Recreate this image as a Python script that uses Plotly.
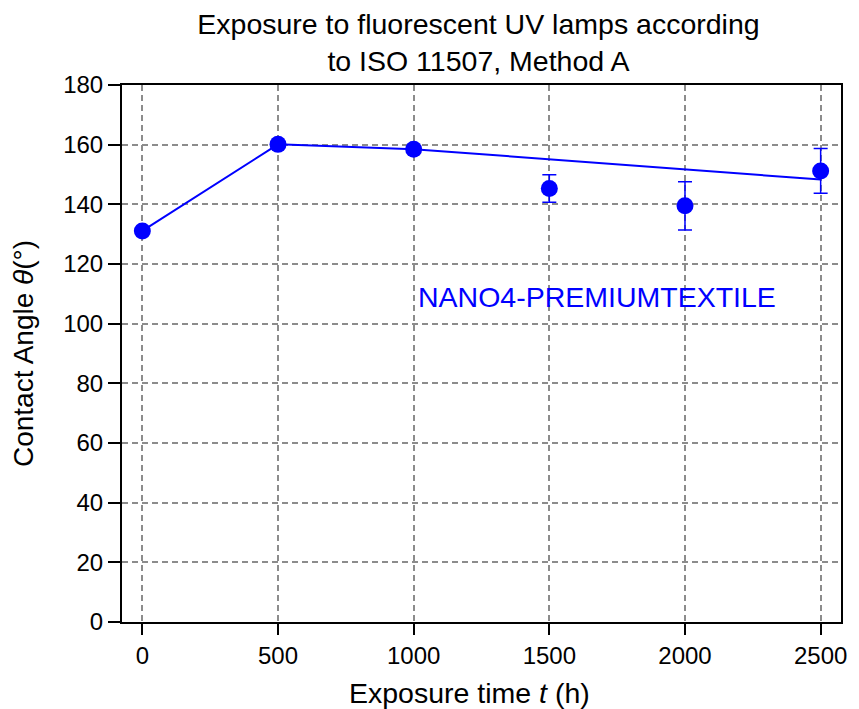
import plotly.graph_objects as go

# Data
exposure_h = [0, 500, 1000, 1500, 2000, 2500]
contact_angle = [131.1, 160.1, 158.5, 145.3, 139.5, 151.2]
angle_err = [0.0, 0.0, 0.0, 4.6, 8.1, 7.5]

trend_x = [0, 500, 1000, 2500]
trend_y = [131.1, 160.1, 158.5, 148.3]

x_ticks = [0, 500, 1000, 1500, 2000, 2500]
y_ticks = [0, 20, 40, 60, 80, 100, 120, 140, 160, 180]

BLUE = "#0000ff"
FONT = "Liberation Sans, Arial, sans-serif"

fig = go.Figure()
fig.add_trace(go.Scatter(
    x=trend_x, y=trend_y, mode="lines",
    line=dict(color=BLUE, width=2), showlegend=False, hoverinfo="skip"))
fig.add_trace(go.Scatter(
    x=exposure_h, y=contact_angle, mode="markers",
    marker=dict(color=BLUE, size=17),
    error_y=dict(type="data", array=angle_err, color=BLUE, thickness=1.5, width=7),
    showlegend=False))

fig.add_annotation(x=1675, y=109, xref="x", yref="y",
                   text="NANO4-PREMIUMTEXTILE", showarrow=False,
                   font=dict(family=FONT, size=28.5, color=BLUE))

# x-axis title placed as annotation (slightly left of plot centre, as in the reference)
fig.add_annotation(x=0.483, y=-0.132, xref="paper", yref="paper",
                   xanchor="center", yanchor="middle",
                   text="Exposure time <i>t</i> (h)", showarrow=False,
                   font=dict(family=FONT, size=28.5, color="black"))

grid = dict(showgrid=True, gridcolor="#8c8c8c", gridwidth=1.5, griddash="6px,4px")

fig.update_layout(
    width=859, height=709,
    margin=dict(l=122, r=15, t=85, b=87),
    paper_bgcolor="white", plot_bgcolor="white",
    font=dict(family=FONT, size=24, color="black"),
    title=dict(text="Exposure to fluorescent UV lamps according<br>to ISO 11507, Method A",
               x=0.557, xanchor="center", xref="container",
               y=1 - 34 / 709, yanchor="middle", font=dict(size=28.5)),
    xaxis=dict(range=[-75, 2575], tickvals=x_ticks, ticks="outside", ticklen=11,
               tickwidth=1.5, tickcolor="black", showline=True, linecolor="black",
               linewidth=2, mirror=True, zeroline=False,
               tickfont=dict(size=24), **grid),
    yaxis=dict(range=[0, 180], tickvals=y_ticks, ticks="outside", ticklen=12,
               tickwidth=1.5, tickcolor="black", showline=True, linecolor="black",
               linewidth=2, mirror=True, zeroline=False,
               title=dict(text="Contact Angle <i>θ</i>(°)", standoff=21, font=dict(size=28)),
               tickfont=dict(size=24), **grid),
)

fig.write_html("out.html", config={"displayModeBar": False},
               post_script="document.body.style.margin='0';document.body.style.padding='0';")
